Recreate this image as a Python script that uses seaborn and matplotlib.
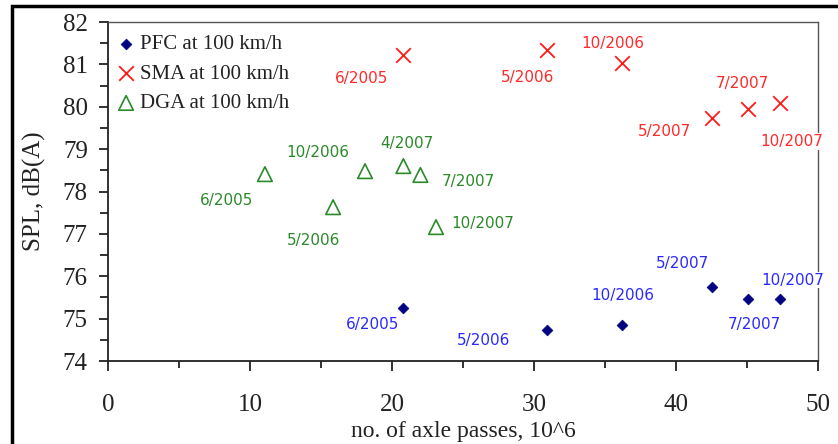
import matplotlib
matplotlib.use("Agg")
import matplotlib.pyplot as plt
from matplotlib.patches import Rectangle
from matplotlib.ticker import MultipleLocator
import seaborn as sns
import pandas as pd

# Axle passes (millions) and sound pressure levels per surface type
pfc_passes = [20.8, 30.95, 36.2, 42.5, 45.05, 47.3]
pfc_spl = [75.26, 74.73, 74.85, 75.74, 75.46, 75.46]
pfc_dates = ["6/2005", "5/2006", "10/2006", "5/2007", "7/2007", "10/2007"]

sma_passes = [20.8, 30.95, 36.2, 42.5, 45.05, 47.3]
sma_spl = [81.23, 81.34, 81.03, 79.73, 79.94, 80.08]
sma_dates = ["6/2005", "5/2006", "10/2006", "5/2007", "7/2007", "10/2007"]

dga_passes = [11.05, 15.85, 18.1, 20.8, 22.0, 23.1]
dga_spl = [78.41, 77.63, 78.48, 78.60, 78.39, 77.16]
dga_dates = ["6/2005", "5/2006", "10/2006", "4/2007", "7/2007", "10/2007"]

# label placement (offset in pixels from each point)
pfc_offsets = [(-31, -17), (-64, -10), (1, 29), (-29, 24), (7, -25), (13, 19)]
sma_offsets = [(-42, -24), (-20, -28), (-9, 20), (-47, -13), (-5, 26), (12, -38)]
dga_offsets = [(-38, -26), (-20, -33), (-47, 19), (4, 23), (48, -7), (47, 4)]

sns.set_style("white")

fig = plt.figure(figsize=(8.38, 4.44), dpi=100)
ax = fig.add_axes([108 / 838, 1 - 361 / 444, 710 / 838, 339 / 444])

series = [
    ("PFC at 100 km/h", pfc_passes, pfc_spl, pfc_dates, pfc_offsets,
     dict(marker="D", s=30, color="#000080", edgecolor="#000080", linewidth=0.5), "#2a2aff"),
    ("SMA at 100 km/h", sma_passes, sma_spl, sma_dates, sma_offsets,
     dict(marker="x", s=110, color="#ff1a1a", linewidth=1.3), "#ff2a2a"),
    ("DGA at 100 km/h", dga_passes, dga_spl, dga_dates, dga_offsets,
     dict(marker="^", s=110, facecolor="none", edgecolor="#2a8a2a", linewidth=1.2), "#2a8a2a"),
]

for name, xs, ys, dates, offs, style, tcol in series:
    df = pd.DataFrame({"passes": xs, "spl": ys})
    sns.scatterplot(data=df, x="passes", y="spl", ax=ax, label=name, zorder=3, **style)
    for x, y, d, (dx, dy) in zip(xs, ys, dates, offs):
        ax.annotate(d, (x, y), xytext=(dx, dy), textcoords="offset pixels",
                    ha="center", va="center", fontsize=11, color=tcol,
                    family="DejaVu Sans", annotation_clip=False, zorder=5,
                    bbox=dict(boxstyle="square,pad=0.05", fc="white", ec="none"))

ax.set_xlim(0, 50)
ax.set_ylim(74, 82)
ax.xaxis.set_major_locator(MultipleLocator(10))
ax.xaxis.set_minor_locator(MultipleLocator(5))
ax.yaxis.set_major_locator(MultipleLocator(1))
ax.yaxis.set_minor_locator(MultipleLocator(0.5))

serif = "Liberation Serif"
ax.tick_params(axis="both", which="both", direction="out", colors="#222222",
               width=1.3, bottom=True, left=True)
ax.tick_params(axis="x", which="major", length=7, pad=17, labelsize=18)
ax.tick_params(axis="x", which="minor", length=5)
ax.tick_params(axis="y", which="major", length=6.5, pad=8, labelsize=18)
ax.tick_params(axis="y", which="minor", length=5.5)
for lab in ax.get_xticklabels() + ax.get_yticklabels():
    lab.set_family(serif)
    lab.set_color("#222222")

for side in ("left", "bottom"):
    ax.spines[side].set_color("#222222")
    ax.spines[side].set_linewidth(1.3)
for side in ("top", "right"):
    ax.spines[side].set_color("#555555")
    ax.spines[side].set_linewidth(1.0)

ax.set_xlabel("no. of axle passes, 10^6", family=serif, fontsize=17,
              color="#222222", labelpad=3)
ax.set_ylabel("SPL, dB(A)", family=serif, fontsize=18, color="#222222", labelpad=12)

leg = ax.legend(loc="upper left", bbox_to_anchor=(0.002, 0.975), frameon=False,
                prop=dict(family=serif, size=15),
                handletextpad=0.05, labelspacing=0.48, borderaxespad=0.0,
                handlelength=1.2, borderpad=0.2)
for t in leg.get_texts():
    t.set_color("#222222")

# outer frame around the figure
fig.patches.append(Rectangle((12 / 838, -0.5), 2.0, 1.5 - 6 / 444,
                             transform=fig.transFigure, fill=False,
                             edgecolor="black", linewidth=2.5))

fig.savefig("out.png", dpi=100)
